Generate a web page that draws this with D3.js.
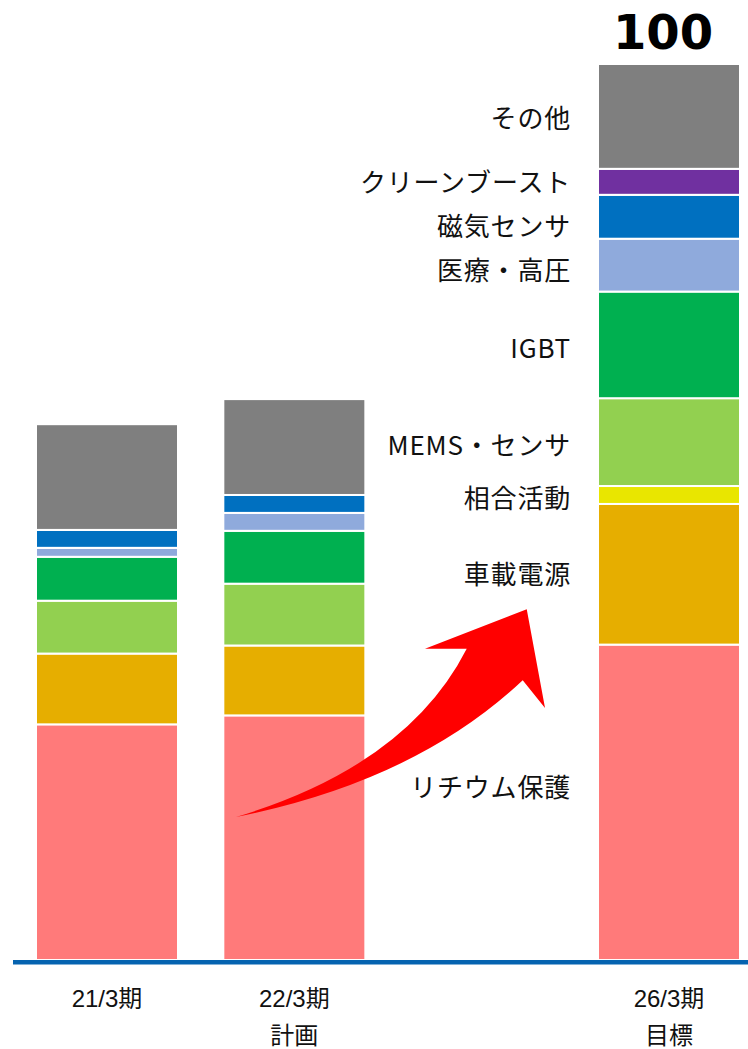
<!DOCTYPE html>
<html>
<head>
<meta charset="utf-8">
<script src="https://cdn.jsdelivr.net/npm/d3@7"></script>
<style>
  html, body { margin: 0; padding: 0; background: #fff; }
  svg { display: block; }
</style>
</head>
<body>
<svg id="chart" width="748" height="1049"></svg>
<script>
// ---- data ----
const categories = ["21/3期", "22/3期", "gap", "26/3期"];
const tickLine1 = ["21/3期", "22/3期", "", "26/3期"];
const tickLine2 = ["", "計画", "", "目標"];
const series = ["リチウム保護", "車載電源", "相合活動", "MEMS・センサ", "IGBT", "医療・高圧", "磁気センサ", "クリーンブースト", "その他"];
const lithium   = [26.3, 27.3, 0, 35.2];
const automotive= [7.9, 7.8, 0, 15.7];
const sogo      = [0, 0, 0, 2.0];
const mems      = [5.9, 6.9, 0, 9.8];
const igbt      = [4.9, 5.9, 0, 11.9];
const medical   = [1.0, 2.0, 0, 5.9];
const magnetic  = [2.0, 2.0, 0, 4.9];
const cleanBoost= [0, 0, 0, 2.9];
const others    = [11.8, 10.7, 0, 11.7];
const seriesValues = [lithium, automotive, sogo, mems, igbt, medical, magnetic, cleanBoost, others];
const colors = ["#FF7A7A", "#E6AE00", "#E9E600", "#92D050", "#00B050", "#8FAADC", "#0070C0", "#7030A0", "#7F7F7F"];
const labelNudge = [-16.5, -1.5, 1.5, 1.5, 2, 3.5, 7.5, -1.5, 0.5];

// ---- layout ----
const svg = d3.select("#chart");
const x = d3.scaleBand().domain(categories).range([36, 740]).paddingInner(0.242).paddingOuter(0);
const y = d3.scaleLinear().domain([0, 100]).range([960, 64]);

const rows = categories.map((c, i) => {
  const r = { cat: c };
  series.forEach((s, j) => r[s] = seriesValues[j][i]);
  return r;
});
const stacked = d3.stack().keys(series)(rows);

// bars
const g = svg.append("g");
stacked.forEach((layer, j) => {
  g.selectAll(null)
    .data(layer.filter(d => d[1] - d[0] > 0))
    .join("rect")
    .attr("x", d => x(d.data.cat))
    .attr("width", x.bandwidth())
    .attr("y", d => y(d[1]))
    .attr("height", d => y(d[0]) - y(d[1]))
    .attr("fill", colors[j])
    .attr("stroke", "#fff")
    .attr("stroke-width", 2);
});

// baseline
svg.append("line")
  .attr("x1", 13).attr("x2", 748)
  .attr("y1", y(0) + 2.3).attr("y2", y(0) + 2.3)
  .attr("stroke", "#0563B0").attr("stroke-width", 4.5);

// category labels
const tickFont = "'Liberation Sans', Arial, 'Noto Sans CJK JP', sans-serif";
categories.forEach((c, i) => {
  const cx = x(c) + x.bandwidth() / 2;
  if (tickLine1[i]) svg.append("text").attr("x", cx).attr("y", 1007)
    .attr("text-anchor", "middle").attr("font-family", tickFont).attr("font-size", 24)
    .attr("fill", "#111").text(tickLine1[i]);
  if (tickLine2[i]) svg.append("text").attr("x", cx).attr("y", 1044)
    .attr("text-anchor", "middle").attr("font-family", tickFont).attr("font-size", 24)
    .attr("fill", "#111").text(tickLine2[i]);
});

// series labels next to target bar
const lastCat = categories[categories.length - 1];
const lastIdx = categories.length - 1;
stacked.forEach((layer, j) => {
  const d = layer[lastIdx];
  if (d[1] - d[0] <= 0) return;
  svg.append("text")
    .attr("x", x(lastCat) - 27)
    .attr("y", (y(d[0]) + y(d[1])) / 2 + labelNudge[j])
    .attr("text-anchor", "end")
    .attr("dominant-baseline", "central")
    .attr("font-family", "'Noto Sans CJK JP', 'Noto Sans', sans-serif")
    .attr("font-size", 26)
    .attr("letter-spacing", 0.8)
    .attr("fill", "#111")
    .text(series[j]);
});

// total label
const total = d3.sum(seriesValues, v => v[lastIdx]);
svg.append("text")
  .attr("x", x(lastCat) + x.bandwidth() / 2 - 6)
  .attr("y", y(total) - 15.5)
  .attr("text-anchor", "middle")
  .attr("font-family", "'DejaVu Sans', sans-serif")
  .attr("font-weight", "bold")
  .attr("font-size", 48)
  .attr("fill", "#000")
  .text(d3.format(".0f")(total));

// growth arrow (annotation) in chart coordinates: [band-step position, value]
const step = x.step();
const x0 = x.range()[0];
const P = (s, v) => [x0 + s * step, y(v)];
const tail = P(1.0676, 15.96);
const upperCtrl = P(1.9815, 21.7);
const leftInner = P(2.2992, 34.74);
const leftBarb = P(2.0765, 34.74);
const tip = P(2.6196, 39.16);
const rightBarb = P(2.7172, 28.13);
const rightInner = P(2.5982, 31.22);
const lowerCtrl = P(2.0269, 19.96);
const path = d3.path();
path.moveTo(...tail);
path.quadraticCurveTo(...upperCtrl, ...leftInner);
path.lineTo(...leftBarb);
path.lineTo(...tip);
path.lineTo(...rightBarb);
path.lineTo(...rightInner);
path.quadraticCurveTo(...lowerCtrl, ...tail);
path.closePath();
svg.append("path").attr("d", path.toString()).attr("fill", "#FF0000");
</script>
</body>
</html>
